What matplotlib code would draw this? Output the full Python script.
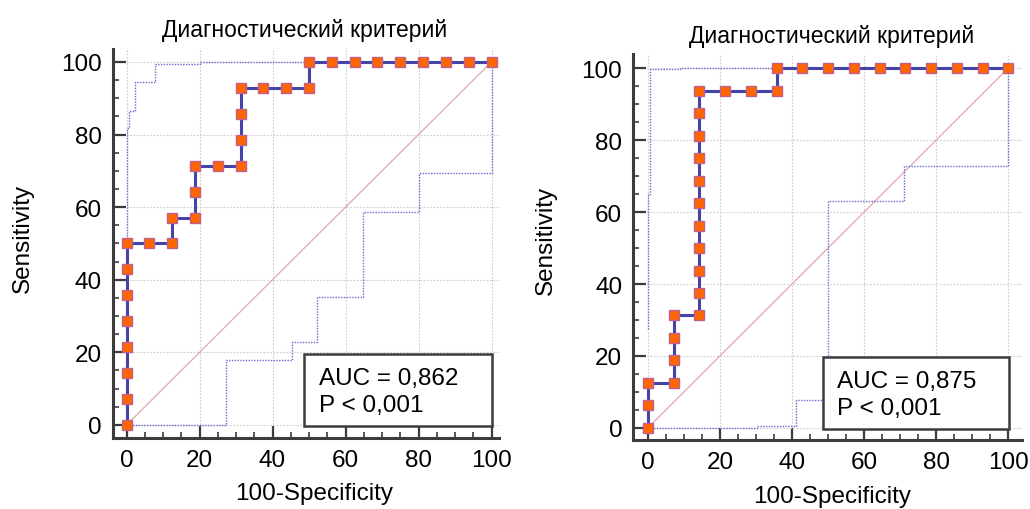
import matplotlib
matplotlib.use("Agg")
import matplotlib.pyplot as plt
from matplotlib.ticker import MultipleLocator
from matplotlib.patches import Rectangle

plt.rcParams['font.family'] = ['Liberation Sans', 'DejaVu Sans']

title_text = "Диагностический критерий"
xlabel_text = "100-Specificity"
ylabel_text = "Sensitivity"
ticks = [0, 20, 40, 60, 80, 100]

# ---- Left chart data ----
l_roc_x = [0, 0, 0, 0, 0, 0, 0, 0, 6.25, 12.5, 12.5, 18.75, 18.75, 18.75, 25, 31.25, 31.25, 31.25, 31.25,
           37.5, 43.75, 50, 50, 56.25, 62.5, 68.75, 75, 81.25, 87.5, 93.75, 100]
l_roc_y = [0, 7.14, 14.29, 21.43, 28.57, 35.71, 42.86, 50, 50, 50, 57.14, 57.14, 64.29, 71.43, 71.43, 71.43,
           78.57, 85.71, 92.86, 92.86, 92.86, 92.86, 100, 100, 100, 100, 100, 100, 100, 100, 100]
l_up_x = [0, 0, 0.8, 0.8, 2.3, 2.3, 7.8, 7.8, 20, 20, 100]
l_up_y = [0, 81.7, 81.7, 86.6, 86.6, 94.4, 94.4, 99.5, 99.5, 100, 100]
l_lo_x = [0, 27.2, 27.2, 45.3, 45.3, 52.1, 52.1, 64.8, 64.8, 80.2, 80.2, 100, 100]
l_lo_y = [0, 0, 17.8, 17.8, 22.9, 22.9, 35.2, 35.2, 58.6, 58.6, 69.3, 69.3, 100]
l_auc = "AUC = 0,862"
l_p = "P < 0,001"

# ---- Right chart data ----
r_roc_x = [0, 0, 0, 7.14, 7.14, 7.14, 7.14, 14.29, 14.29, 14.29, 14.29, 14.29, 14.29, 14.29, 14.29, 14.29,
           14.29, 14.29, 21.43, 28.57, 35.71, 35.71, 42.86, 50, 57.14, 64.29, 71.43, 78.57, 85.71, 92.86, 100]
r_roc_y = [0, 6.25, 12.5, 12.5, 18.75, 25, 31.25, 31.25, 37.5, 43.75, 50, 56.25, 62.5, 68.75, 75, 81.25,
           87.5, 93.75, 93.75, 93.75, 93.75, 100, 100, 100, 100, 100, 100, 100, 100, 100, 100]
r_up_x = [0, 0, 0.6, 0.6, 9.0, 9.0, 100]
r_up_y = [27.5, 65.0, 65.0, 99.6, 99.6, 100, 100]
r_lo_x = [0, 30.3, 30.3, 41.1, 41.1, 50.1, 50.1, 71.1, 71.1, 100, 100]
r_lo_y = [0, 0, 0.6, 0.6, 7.8, 7.8, 63.0, 63.0, 72.9, 72.9, 100]
r_auc = "AUC = 0,875"
r_p = "P < 0,001"

W, H = 1030, 510
fig = plt.figure(figsize=(W / 100, H / 100), dpi=100)

FS = 17.5
FS_T = 16.5
spine_c = '#3c3c3c'


def draw(rect, xlim, ylim, rx, ry, ux, uy, lx, ly, auc, p):
    ax = fig.add_axes(rect)
    ax.set_xlim(*xlim)
    ax.set_ylim(*ylim)
    for s in ['top', 'right']:
        ax.spines[s].set_visible(False)
    for s in ['left', 'bottom']:
        ax.spines[s].set_color(spine_c)
        ax.spines[s].set_linewidth(2.2)
    ax.set_xticks(ticks)
    ax.set_yticks(ticks)
    ax.xaxis.set_minor_locator(MultipleLocator(5))
    ax.yaxis.set_minor_locator(MultipleLocator(5))
    ax.tick_params(which='major', direction='in', length=9, width=1.6, color=spine_c,
                   labelsize=FS, pad=8)
    ax.tick_params(which='minor', direction='in', length=4, width=1.2, color=spine_c)
    ax.grid(True, which='major', color='#cccccc', linestyle=(0, (1.5, 1.5)), linewidth=0.8)
    ax.set_axisbelow(True)
    # diagonal
    ax.plot([0, 100], [0, 100], color='#e0a8a8', linewidth=0.9, zorder=2)
    # confidence bounds
    ax.plot(ux, uy, color='#6a6ad0', linestyle=(0, (1, 1)), linewidth=1.0, zorder=3)
    ax.plot(lx, ly, color='#6a6ad0', linestyle=(0, (1, 1)), linewidth=1.0, zorder=3)
    # ROC curve
    ax.plot(rx, ry, color='#4444a8', linewidth=2.2, marker='s', markersize=7,
            markerfacecolor='#ff6600', markeredgecolor='#c06090', markeredgewidth=1.0, zorder=5)
    # AUC box
    ax.add_patch(Rectangle((48.5, -0.2), 51.6, 19.8, facecolor='white', edgecolor=spine_c,
                           linewidth=1.8, zorder=6))
    ax.text(52.6, 16.0, auc, fontsize=FS, va='top', ha='left', zorder=7)
    ax.text(52.6, 8.6, p, fontsize=FS, va='top', ha='left', zorder=7)
    return ax


axL = draw([0.1094, 0.1392, 0.3749, 0.7637], (-3.8, 102), (-3.6, 103.7),
           l_roc_x, l_roc_y, l_up_x, l_up_y, l_lo_x, l_lo_y, l_auc, l_p)
axR = draw([0.6149, 0.1359, 0.3774, 0.7563], (-4.0, 103.8), (-3.25, 103.9),
           r_roc_x, r_roc_y, r_up_x, r_up_y, r_lo_x, r_lo_y, r_auc, r_p)

fig.text(305 / W, 1 - 31 / H, title_text, fontsize=FS_T, ha='center', va='center')
fig.text(832 / W, 1 - 36 / H, title_text, fontsize=FS_T, ha='center', va='center')
fig.text(314 / W, 1 - 494 / H, xlabel_text, fontsize=FS, ha='center', va='center')
fig.text(832 / W, 1 - 497 / H, xlabel_text, fontsize=FS, ha='center', va='center')
fig.text(23 / W, 1 - 238 / H, ylabel_text, fontsize=FS, ha='center', va='center', rotation=90)
fig.text(546 / W, 1 - 240 / H, ylabel_text, fontsize=FS, ha='center', va='center', rotation=90)

fig.savefig("out.png", dpi=100)
